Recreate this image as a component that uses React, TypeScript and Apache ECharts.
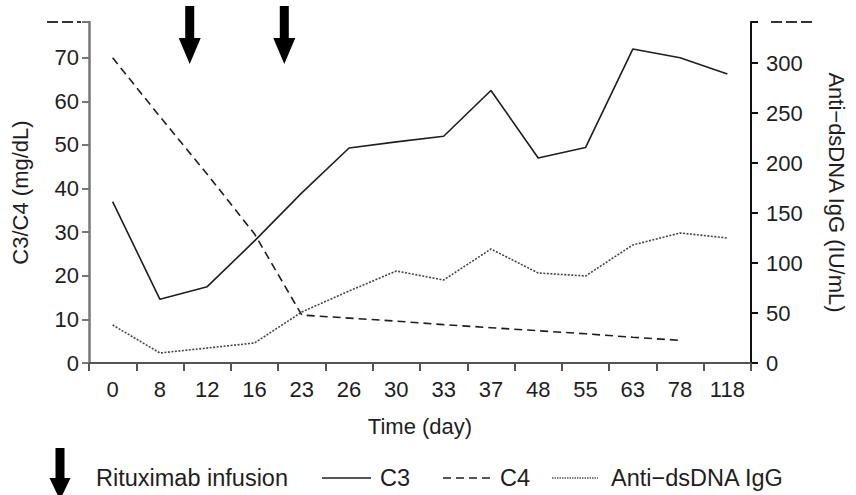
import React, { useEffect, useRef } from "react";
import * as echarts from "echarts";

const days = ["0", "8", "12", "16", "23", "26", "30", "33", "37", "48", "55", "63", "78", "118"];
const c3 = [37, 14.6, 17.5, 28, 39, 49.3, 50.7, 52, 62.5, 47, 49.4, 72, 70, 66.3];
const c4 = [70, 56.5, 43.3, 29.6, 11, 10.3, 9.6, 8.8, 8.1, 7.4, 6.7, 5.9, 5.2, null];
const antiDsDna = [38, 10, 15, 20, 51, 72, 92, 83, 114, 90, 87, 118, 130, 125];
// Rituximab infusions: between these category indexes, at this fraction
const infusionAfterIndex = [1, 3];
const infusionFraction = 0.63;

const leftMax = 78.2;
const rightMax = 341;
const FONT = "'Liberation Sans', Arial, Helvetica, sans-serif";
const INK = "#1e1e1e";

function arrowPoints(cx: number, top: number, shaftLen: number, headLen: number, shaftHalf: number, headHalf: number) {
  return [
    [cx - shaftHalf, top],
    [cx + shaftHalf, top],
    [cx + shaftHalf, top + shaftLen],
    [cx + headHalf, top + shaftLen],
    [cx, top + shaftLen + headLen],
    [cx - headHalf, top + shaftLen],
    [cx - shaftHalf, top + shaftLen],
  ];
}

export default function App() {
  const ref = useRef<HTMLDivElement>(null);
  useEffect(() => {
    if (!ref.current) return;
    const chart = echarts.init(ref.current, undefined, { renderer: "svg" });
    const labelStyle = { color: INK, fontSize: 22, fontFamily: FONT };
    const option: any = {
      animation: false,
      backgroundColor: "#fff",
      grid: { left: 89, right: 105, top: 22, bottom: 132, containLabel: false },
      xAxis: {
        type: "category",
        data: days,
        boundaryGap: true,
        name: "Time (day)",
        nameLocation: "middle",
        nameGap: 52,
        nameTextStyle: { ...labelStyle },
        axisLine: { lineStyle: { color: "#555", width: 2 } },
        axisTick: { show: true, length: 8, lineStyle: { color: "#555", width: 2 } },
        axisLabel: { ...labelStyle, margin: 15, interval: 0 },
        splitLine: { show: false },
      },
      yAxis: [
        {
          type: "value",
          min: 0,
          max: leftMax,
          interval: 10,
          name: "C3/C4 (mg/dL)",
          nameLocation: "middle",
          nameGap: 58,
          nameRotate: 90,
          nameTextStyle: { ...labelStyle },
          axisLine: { show: true, lineStyle: { color: "#777", width: 2.5 } },
          axisTick: { show: true, length: 7, lineStyle: { color: "#777", width: 2 } },
          axisLabel: {
            ...labelStyle,
            margin: 10,
            formatter: (v: number) => (Math.abs(v % 10) < 1e-6 ? String(v) : ""),
          },
          splitLine: { show: false },
        },
        {
          type: "value",
          min: 0,
          max: rightMax,
          interval: 50,
          position: "right",
          name: "Anti\u2212dsDNA IgG (IU/mL)",
          nameLocation: "middle",
          nameGap: 74,
          nameRotate: -90,
          nameTextStyle: { ...labelStyle },
          axisLine: { show: true, lineStyle: { color: "#111", width: 2 } },
          axisTick: { show: true, length: 7, lineStyle: { color: "#111", width: 2 } },
          axisLabel: {
            ...labelStyle,
            margin: 15,
            formatter: (v: number) => (Math.abs(v % 50) < 1e-6 ? String(v) : ""),
          },
          splitLine: { show: false },
        },
      ],
      series: [
        {
          name: "C3",
          type: "line",
          yAxisIndex: 0,
          data: c3,
          symbol: "none",
          lineStyle: { color: INK, width: 1.6, type: "solid" },
        },
        {
          name: "C4",
          type: "line",
          yAxisIndex: 0,
          data: c4,
          symbol: "none",
          lineStyle: { color: INK, width: 1.6, type: [8, 5] },
        },
        {
          name: "Anti-dsDNA IgG",
          type: "line",
          yAxisIndex: 1,
          data: antiDsDna,
          symbol: "none",
          lineStyle: { color: "#444", width: 1.6, type: [2, 1.5] },
        },
      ],
    };
    chart.setOption(option);

    const graphics: any[] = [];
    // axis-top dashes
    const yTop = chart.convertToPixel({ yAxisIndex: 0 }, leftMax) as number;
    const xLeft = chart.convertToPixel({ xAxisIndex: 0 }, 0) as number;
    const xRight = chart.convertToPixel({ xAxisIndex: 0 }, days.length - 1) as number;
    const half = (xRight - xLeft) / (days.length - 1) / 2;
    const axL = xLeft - half;
    const axR = xRight + half;
    graphics.push({
      type: "line",
      shape: { x1: axL - 42, y1: yTop, x2: axL - 8, y2: yTop },
      style: { stroke: "#333", lineWidth: 2, lineDash: [11, 4] },
    });
    graphics.push({
      type: "line",
      shape: { x1: axR + 20, y1: yTop, x2: axR + 63, y2: yTop },
      style: { stroke: "#333", lineWidth: 2, lineDash: [11, 4] },
    });
    // infusion arrows
    infusionAfterIndex.forEach((idx) => {
      const a = chart.convertToPixel({ xAxisIndex: 0 }, idx) as number;
      const b = chart.convertToPixel({ xAxisIndex: 0 }, idx + 1) as number;
      const cx = a + infusionFraction * (b - a);
      graphics.push({
        type: "polygon",
        shape: { points: arrowPoints(cx, 6, 32, 26, 4.5, 11) },
        style: { fill: "#000" },
      });
    });
    // legend
    const ly = 478;
    graphics.push({
      type: "polygon",
      shape: { points: arrowPoints(60, 448, 30, 22, 4.5, 10.5) },
      style: { fill: "#000" },
    });
    const lt = (x: number, text: string) => ({
      type: "text",
      x,
      y: ly,
      style: { text, fill: INK, font: `23.5px ${FONT}`, verticalAlign: "middle", align: "left" },
    });
    graphics.push(lt(96, "Rituximab infusion"));
    graphics.push({
      type: "line",
      shape: { x1: 322, y1: ly, x2: 371, y2: ly },
      style: { stroke: INK, lineWidth: 1.6 },
    });
    graphics.push(lt(380, "C3"));
    graphics.push({
      type: "line",
      shape: { x1: 443, y1: ly, x2: 491, y2: ly },
      style: { stroke: INK, lineWidth: 1.6, lineDash: [8, 5] },
    });
    graphics.push(lt(500, "C4"));
    graphics.push({
      type: "line",
      shape: { x1: 552, y1: ly, x2: 598, y2: ly },
      style: { stroke: "#555", lineWidth: 1.4, lineDash: [1.5, 1] },
    });
    graphics.push(lt(611, "Anti\u2212dsDNA IgG"));
    chart.setOption({ graphic: graphics });

    return () => chart.dispose();
  }, []);
  return <div ref={ref} style={{ width: 856, height: 495, position: "absolute", left: 0, top: 0 }} />;
}
